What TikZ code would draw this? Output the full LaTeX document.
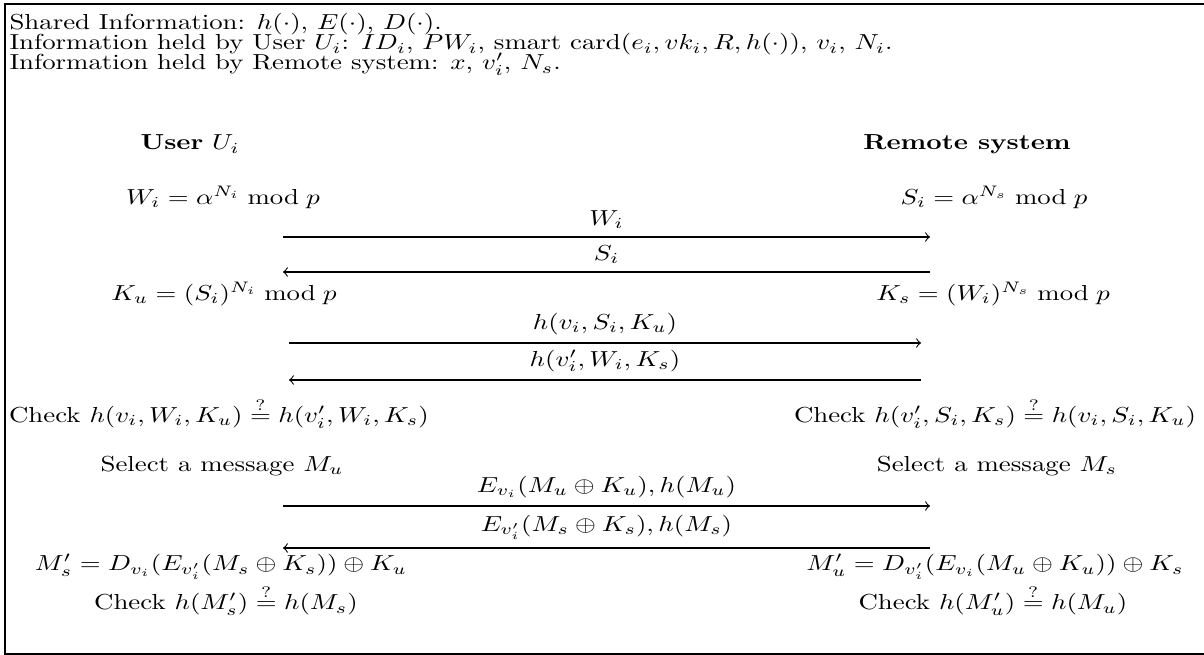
\documentclass[tikz,border=0pt]{standalone}
\usepackage{amsmath}
\begin{document}
\begin{tikzpicture}[x=0.373pt, y=-0.4605pt, yscale=0.81, every node/.style={inner sep=0pt, transform shape}, lbl/.style={above=3.5pt}]
\useasboundingbox (0,0) rectangle (1204,655);
\draw[line width=0.5pt] (1204,4) -- (5,4) -- (5,654) -- (1204,654);
\node[anchor=west] (info1) at (9,24.5) {Shared Information: $h(\cdot)$, $E(\cdot)$, $D(\cdot)$.};
\node[anchor=west] (info2) at (9,44.5) {Information held by User $U_i$: $ID_i$, $PW_i$, smart card$(e_i,vk_i,R,h(\cdot))$, $v_i$, $N_i$.};
\node[anchor=west] (info3) at (9,64.5) {Information held by Remote system: $x$, $v_i'$, $N_s$.};
\node (user) at (190,144) {\textbf{User} $U_i$};
\node (remote) at (967,144) {\textbf{Remote system}};
\node (wi) at (223,197) {$W_i=\alpha^{N_i}\bmod p$};
\node (si) at (994,197) {$S_i=\alpha^{N_s}\bmod p$};
\node (ku) at (224,294) {$K_u=(S_i)^{N_i}\bmod p$};
\node (ks) at (993,294) {$K_s=(W_i)^{N_s}\bmod p$};
\node (checku) at (219,413) {Check $h(v_i,W_i,K_u)\stackrel{?}{=}h(v_i',W_i,K_s)$};
\node (checks) at (995,413) {Check $h(v_i',S_i,K_s)\stackrel{?}{=}h(v_i,S_i,K_u)$};
\node (selu) at (222,466) {Select a message $M_u$};
\node (sels) at (997,466) {Select a message $M_s$};
\node (msp) at (221,567) {$M_s'=D_{v_i}(E_{v_i'}(M_s\oplus K_s))\oplus K_u$};
\node (mup) at (995,567) {$M_u'=D_{v_i'}(E_{v_i}(M_u\oplus K_u))\oplus K_s$};
\node (chks) at (226,600) {Check $h(M_s')\stackrel{?}{=}h(M_s)$};
\node (chku) at (993,600) {Check $h(M_u')\stackrel{?}{=}h(M_u)$};
% arrow ends
\coordinate (l1) at (283,237); \coordinate (r1) at (930,237);
\coordinate (l2) at (283,272); \coordinate (r2) at (930,272);
\coordinate (l3) at (289,343); \coordinate (r3) at (921,343);
\coordinate (l4) at (289,380); \coordinate (r4) at (921,380);
\coordinate (l5) at (283,506); \coordinate (r5) at (930,506);
\coordinate (l6) at (283,548); \coordinate (r6) at (930,548);
\draw[->] (l1) -- node[lbl] (m1) {$W_i$} (r1);
\draw[->] (r2) -- node[lbl] (m2) {$S_i$} (l2);
\draw[->] (l3) -- node[lbl] (m3) {$h(v_i,S_i,K_u)$} (r3);
\draw[->] (r4) -- node[lbl] (m4) {$h(v_i',W_i,K_s)$} (l4);
\draw[->] (l5) -- node[lbl] (m5) {$E_{v_i}(M_u\oplus K_u),h(M_u)$} (r5);
\draw[->] (r6) -- node[lbl] (m6) {$E_{v_i'}(M_s\oplus K_s),h(M_s)$} (l6);
\end{tikzpicture}
\end{document}
